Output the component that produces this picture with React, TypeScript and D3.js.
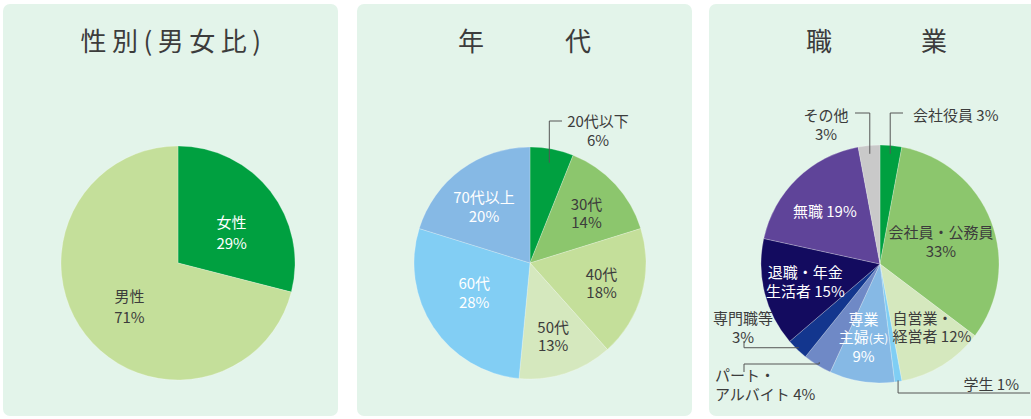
import React from 'react';
import * as d3 from 'd3';

const W = 1031;
const H = 419;
const FONT = "'Noto Sans CJK JP', 'Noto Sans', sans-serif";
const DARK = '#3c3c3c';

// 性別
const genderNames = ['女性', '男性'];
const genderValues = [29, 71];
const genderColors = ['#00a040', '#c4df9a'];

// 年代
const ageNames = ['20代以下', '30代', '40代', '50代', '60代', '70代以上'];
const ageValues = [6, 14, 18, 13, 28, 20];
const ageColors = ['#00a040', '#8cc66d', '#c4df9a', '#d5e8be', '#82cef4', '#86b9e5'];

// 職業
const jobNames = ['会社役員', '会社員・公務員', '自営業・経営者', '学生', '専業主婦(夫)', 'パート・アルバイト', '専門職等', '退職・年金生活者', '無職', 'その他'];
const jobValues = [3, 33, 12, 1, 9, 4, 3, 15, 19, 3];
const jobColors = ['#00a040', '#8cc66d', '#d5e8be', '#7fcef4', '#86b9e5', '#6f89c6', '#13368e', '#130b5f', '#5f4499', '#c9c9c9'];

// titles: single string, or two words spread apart
const titles: string[][] = [['性別(男女比)'], ['年', '代'], ['職', '業']];
const titleGap = [0, 107, 115];

type Pt = [number | null, number | null];
type LabelSpec = {
  lines: string[];
  pctLine: boolean;
  color: string;
  k?: number;
  nx?: number;
  ny?: number;
  anchor?: 'start' | 'middle' | 'end';
  out?: { tx: number; ty: number; rk: number; pts: Pt[] };
};

const genderLabels: LabelSpec[] = [
  { lines: ['女性'], pctLine: true, color: '#fff', k: 0.58, nx: 0, ny: 12 },
  { lines: ['男性'], pctLine: true, color: DARK, k: 0.58, nx: 5, ny: 3 },
];

const ageLabels: LabelSpec[] = [
  { lines: ['20代以下'], pctLine: true, color: DARK, out: { tx: 68, ty: -141, rk: 0.88, pts: [[null, -142], [32, null]] } },
  { lines: ['30代'], pctLine: true, color: DARK, k: 0.64, nx: 2, ny: 1 },
  { lines: ['40代'], pctLine: true, color: DARK, k: 0.64, nx: 0, ny: 1 },
  { lines: ['50代'], pctLine: true, color: DARK, k: 0.64, nx: 0, ny: 3 },
  { lines: ['60代'], pctLine: true, color: '#fff', k: 0.64, nx: 6, ny: -11 },
  { lines: ['70代以上'], pctLine: true, color: '#fff', k: 0.64, nx: -2, ny: 4 },
];

const jobLabels: LabelSpec[] = [
  { lines: ['会社役員'], pctLine: false, color: DARK, anchor: 'start', out: { tx: 33, ty: -148, rk: 0.93, pts: [[null, -151], [23, null]] } },
  { lines: ['会社員・公務員'], pctLine: true, color: DARK, k: 0.63, nx: -9, ny: 5 },
  { lines: ['自営業・', '経営者'], pctLine: false, color: DARK, k: 0.63, nx: -27, ny: 0, anchor: 'start' },
  { lines: ['学生'], pctLine: false, color: DARK, anchor: 'end', out: { tx: 139, ty: 121, rk: 0.99, pts: [[null, 129], [150, null]] } },
  { lines: ['専業', '主婦(夫)'], pctLine: true, color: '#fff', k: 0.63, nx: -5, ny: 0 },
  { lines: ['パート・', 'アルバイト'], pctLine: false, color: DARK, anchor: 'start', out: { tx: -165, ty: 112, rk: 0.97, pts: [[null, 100], [-136, null], [null, 108]] } },
  { lines: ['専門職等'], pctLine: true, color: DARK, out: { tx: -137, ty: 55, rk: 0.98, pts: [[-136, null], [null, 77]] } },
  { lines: ['退職・年金', '生活者'], pctLine: false, color: '#fff', k: 0.63, nx: -2, ny: 0 },
  { lines: ['無職'], pctLine: false, color: '#fff', k: 0.63, nx: -3, ny: 1 },
  { lines: ['その他'], pctLine: true, color: DARK, out: { tx: -54, ty: -148, rk: 0.93, pts: [[null, -151], [-25, null]] } },
];

const polar = (a: number, r: number): [number, number] => [Math.sin(a) * r, -Math.cos(a) * r];

// parenthesised parts are set smaller, as in 主婦(夫)
const LineText = ({ text }: { text: string }) => {
  const parts = text.split(/(\([^)]*\))/).filter(p => p.length);
  return (
    <>
      {parts.map((p, i) => (
        <tspan key={i} fontSize={p.startsWith('(') ? '0.78em' : undefined}>{p}</tspan>
      ))}
    </>
  );
};

const PieChart = ({ cx, cy, r, names, values, colors, labels, lh = 18.5 }: {
  cx: number; cy: number; r: number; names: string[]; values: number[]; colors: string[]; labels: LabelSpec[]; lh?: number;
}) => {
  const color = d3.scaleOrdinal<string, string>().domain(names).range(colors);
  const arcs = d3.pie<number>().sort(null).value(d => d)(values);
  const arc = d3.arc<d3.PieArcDatum<number>>().innerRadius(0).outerRadius(r);

  return (
    <g transform={`translate(${cx},${cy})`}>
      {arcs.map((a, i) => (
        <path key={i} d={arc(a) || ''} fill={color(names[i])} stroke="#fff" strokeWidth={0.4} strokeOpacity={0.6} />
      ))}
      {arcs.map((a, i) => {
        const spec = labels[i];
        const pct = `${values[i]}%`;
        const lines = spec.pctLine
          ? [...spec.lines, pct]
          : [...spec.lines.slice(0, -1), `${spec.lines[spec.lines.length - 1]} ${pct}`];
        const mid = (a.startAngle + a.endAngle) / 2;
        let x: number;
        let y0: number;
        let leader: string | null = null;
        if (spec.out) {
          const [sx, sy] = polar(mid, r * spec.out.rk);
          let px = sx;
          let py = sy;
          const path = [`M${px},${py}`];
          spec.out.pts.forEach(([dx, dy]) => {
            if (dx !== null) px = dx;
            if (dy !== null) py = dy;
            path.push(`L${px},${py}`);
          });
          leader = path.join('');
          x = spec.out.tx;
          y0 = spec.out.ty;
        } else {
          const [lx, ly] = polar(mid, r * (spec.k ?? 0.6));
          x = lx + (spec.nx ?? 0);
          y0 = ly + (spec.ny ?? 0) - ((lines.length - 1) * lh) / 2;
        }
        return (
          <g key={`l${i}`}>
            {leader && <path d={leader} fill="none" stroke="#555" strokeWidth={1} />}
            <text textAnchor={spec.anchor ?? 'middle'} fontFamily={FONT} fontSize={15} fill={spec.color}>
              {lines.map((t, j) => (
                <tspan key={j} x={x} y={y0 + j * lh} dy="0.36em"><LineText text={t} /></tspan>
              ))}
            </text>
          </g>
        );
      })}
    </g>
  );
};

const panelX = [3, 357, 709];
const panelW = 335;

export default function App() {
  return (
    <svg width={W} height={H} viewBox={`0 0 ${W} ${H}`} style={{ position: 'absolute', left: 0, top: 0, background: '#fff' }}>
      {panelX.map((px, i) => {
        const c = px + panelW / 2;
        const words = titles[i];
        return (
          <g key={i}>
            <rect x={px} y={4} width={panelW} height={412} rx={7} fill="#e3f4ea" />
            <text textAnchor="middle" fontFamily={FONT} fontSize={26} fill={DARK} letterSpacing={words.length === 1 ? 5.5 : 0}>
              {words.map((w, j) => (
                <tspan key={j} x={words.length === 1 ? c + 3 : c + (j - 0.5) * titleGap[i]} y={51}>{w}</tspan>
              ))}
            </text>
          </g>
        );
      })}
      <PieChart cx={178} cy={263} r={117} names={genderNames} values={genderValues} colors={genderColors} labels={genderLabels} lh={21} />
      <PieChart cx={530} cy={263} r={116} names={ageNames} values={ageValues} colors={ageColors} labels={ageLabels} />
      <PieChart cx={880} cy={264} r={119} names={jobNames} values={jobValues} colors={jobColors} labels={jobLabels} />
    </svg>
  );
}
